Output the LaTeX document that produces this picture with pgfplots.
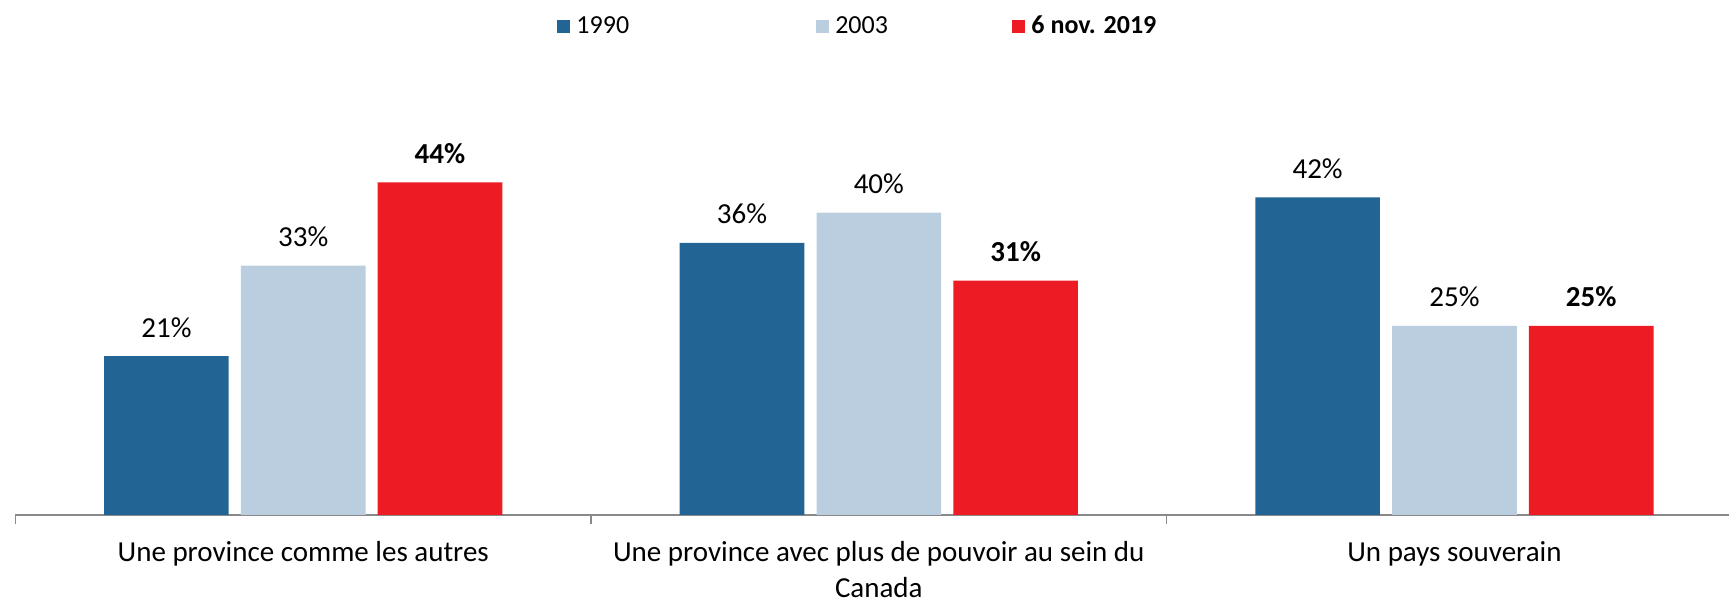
\documentclass[border=0pt]{standalone}
\usepackage{pgfplots}
\pgfplotsset{compat=1.18}
\usepackage{fontspec}
\setmainfont{Carlito}
\definecolor{cA}{HTML}{226494}
\definecolor{cB}{HTML}{BBCEE0}
\definecolor{cC}{HTML}{ED1C24}
\definecolor{axgray}{HTML}{898989}
\begin{document}
\begin{tikzpicture}
\begin{axis}[
 name=ax,
 scale only axis, width=856.8pt, height=189pt,
 xmin=-0.5, xmax=2.477, ymin=0, ymax=50,
 ybar=6.1pt, bar width=62.3pt,
 axis x line*=bottom, axis y line=none,
 x axis line style={axgray, line width=1pt, -},
 xtick={0,1,2},
 xticklabels={Une province comme les autres, {Une province avec plus de pouvoir au sein du\\Canada}, Un pays souverain},
 xticklabel style={align=center, font=\fontsize{14.5}{18}\selectfont, text=black, inner sep=0pt, yshift=-8.5pt},
 major x tick style={draw=none},
 minor xtick={-0.5,0.5,1.5,2.5},
 minor x tick style={axgray, line width=0.8pt},
 tick align=outside,
 major tick length=4.5pt,
 minor tick length=4.5pt,
 /pgf/number format/assume math mode=true,
 nodes near coords={\pgfmathprintnumber[assume math mode=true]{\pgfplotspointmeta}\%},
 every node near coord/.append style={font=\fontsize{14.5}{17}\selectfont, anchor=base, yshift=9.6pt, text=black},
 legend columns=3,
 legend style={at={(0.316,1.292)}, anchor=west, draw=none, inner sep=0pt, column sep=0pt,
   nodes={inner sep=0pt}, font=\fontsize{13}{15}\selectfont,
   /tikz/every odd column/.append style={column sep=3pt}},
 legend image code/.code={\fill[#1] (0pt,-3.3pt) rectangle (6.6pt,3.3pt);},
]
\addplot[fill=cA, draw=none] coordinates {(0,21) (1,36) (2,42)};
\addlegendentry{\makebox[119.8pt][l]{1990}}
\addplot[fill=cB, draw=none] coordinates {(0,33) (1,40) (2,25)};
\addlegendentry{\makebox[88.5pt][l]{2003}}
\addplot[fill=cC, draw=none, every node near coord/.append style={font=\fontsize{14.5}{17}\selectfont\bfseries}] coordinates {(0,44) (1,31) (2,25)};
\addlegendentry{\textbf{6 nov. 2019}}
\end{axis}
\pgfresetboundingbox
\path[use as bounding box] ([shift={(-7.7pt,-44pt)}]ax.south west) rectangle ([shift={(0pt,68.5pt)}]ax.north east);
\end{tikzpicture}
\end{document}
